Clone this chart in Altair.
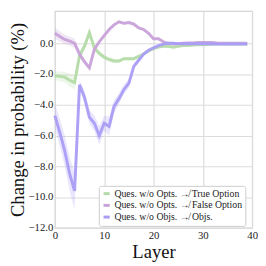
import altair as alt
import pandas as pd

layers = list(range(40))
series_names = [
    "Ques. w/o Opts. \u219b True Option",
    "Ques. w/o Opts. \u219b False Option",
    "Ques. w/o Objs. \u219b Objs.",
]
colors = ["#b4dba8", "#c8a2d9", "#a99df6"]

true_opt = [-2.1, -2.15, -2.2, -2.4, -2.55, -0.8, -0.2, 0.7, -0.3, -0.65,
            -0.9, -1.05, -1.15, -1.15, -1.0, -1.0, -1.0, -0.85, -0.7, -0.5,
            -0.35, -0.25, -0.2, -0.2, -0.25, -0.2, -0.15, -0.15, -0.12, -0.1,
            -0.1, -0.08, -0.05, -0.05, -0.05, -0.05, -0.05, -0.05, -0.05, -0.05]
true_sd = [0.3, 0.3, 0.35, 0.4, 0.45, 0.3, 0.25, 0.2, 0.15, 0.15,
           0.15, 0.15, 0.15, 0.12, 0.1, 0.1, 0.1, 0.1, 0.08, 0.08,
           0.06, 0.06, 0.05, 0.05, 0.05, 0.05, 0.04, 0.04, 0.04, 0.04,
           0.03, 0.03, 0.03, 0.03, 0.03, 0.03, 0.03, 0.03, 0.03, 0.03]

false_opt = [0.65, 0.45, 0.25, 0.15, 0.0, -0.7, -1.2, -1.6, -0.4, 0.1,
             0.5, 0.9, 1.2, 1.4, 1.3, 1.35, 1.25, 1.0, 0.9, 0.65,
             0.3, 0.3, 0.1, 0.0, -0.05, -0.03, 0.0, 0.02, 0.03, 0.05,
             0.05, 0.05, 0.05, 0.0, 0.0, 0.0, 0.0, 0.0, 0.0, 0.0]
false_sd = [0.35, 0.33, 0.3, 0.3, 0.3, 0.25, 0.2, 0.15, 0.12, 0.1,
            0.1, 0.1, 0.1, 0.1, 0.1, 0.1, 0.1, 0.08, 0.08, 0.08,
            0.06, 0.06, 0.05, 0.05, 0.04, 0.04, 0.04, 0.04, 0.04, 0.04,
            0.04, 0.04, 0.04, 0.03, 0.03, 0.03, 0.03, 0.03, 0.03, 0.03]

objs = [-4.7, -5.8, -7.0, -8.5, -9.6, -2.7, -3.5, -4.8, -5.2, -6.0,
        -5.2, -5.4, -4.1, -3.6, -3.0, -2.6, -1.5, -1.1, -0.7, -0.45,
        -0.3, -0.15, -0.05, 0.0, 0.0, -0.02, -0.03, -0.03, -0.03, -0.03,
        -0.03, -0.03, -0.05, -0.05, -0.05, -0.05, -0.05, -0.05, -0.05, -0.05]
objs_sd = [0.8, 0.9, 1.0, 1.1, 1.2, 0.3, 0.4, 0.45, 0.5, 0.6,
           0.5, 0.6, 0.4, 0.35, 0.3, 0.3, 0.2, 0.15, 0.1, 0.08,
           0.08, 0.06, 0.05, 0.05, 0.04, 0.04, 0.04, 0.04, 0.04, 0.04,
           0.03, 0.03, 0.03, 0.03, 0.03, 0.03, 0.03, 0.03, 0.03, 0.03]

y_ticks = [-12, -10, -8, -6, -4, -2, 0]
x_ticks = [0, 10, 20, 30, 40]

rows = []
for name, vals, sds in zip(series_names, [true_opt, false_opt, objs], [true_sd, false_sd, objs_sd]):
    for l, v, s in zip(layers, vals, sds):
        rows.append({"layer": l, "value": v, "lo": v - s, "hi": v + s, "series": name})
df = pd.DataFrame(rows)

serif = "Liberation Serif"

color = alt.Color(
    "series:N",
    scale=alt.Scale(domain=series_names, range=colors),
    sort=series_names,
    legend=alt.Legend(
        title=None,
        orient="none",
        legendX=45,
        legendY=179,
        symbolType="stroke",
        symbolStrokeWidth=3,
        symbolSize=40,
        symbolOpacity=1,
        labelFont="Liberation Serif, DejaVu Serif",
        labelFontSize=10,
        labelColor="#222",
        labelLimit=300,
        fillColor="white",
        strokeColor="#ccc",
        padding=3,
        rowPadding=0,
        symbolOffset=0,
        labelOffset=3,
        cornerRadius=2,
    ),
)

xaxis = alt.Axis(values=x_ticks, title="Layer", format="d", titleFont=serif,
                 labelFont=serif, labelFlush=False)
yaxis = alt.Axis(values=y_ticks, format=".1f", title="Change in probability (%)",
                 labelOverlap=False, titleFont=serif, labelFont=serif)
xenc = alt.X("layer:Q", scale=alt.Scale(domain=[0, 40], nice=False), axis=xaxis)
yscale = alt.Scale(domain=[-12, 2.1], nice=False, zero=False)

band = alt.Chart(df).mark_area(opacity=0.25).encode(
    x=xenc,
    y=alt.Y("lo:Q", scale=yscale, axis=yaxis),
    y2="hi:Q",
    color=color,
    detail="series:N",
)

line = alt.Chart(df).mark_line(strokeWidth=3, opacity=0.95).encode(
    x=xenc,
    y=alt.Y("value:Q", scale=yscale, axis=yaxis),
    color=color,
)

chart = alt.layer(band, line).properties(
    width=202,
    height=222,
    autosize=alt.AutoSizeParams(type="none"),
    padding={"left": 48, "top": 0, "right": 6, "bottom": 36},
).configure_view(
    stroke="#d6d6d6", strokeWidth=1.2
).configure_axis(
    grid=True,
    gridColor="#dcdcdc",
    gridWidth=1.2,
    domain=False,
    ticks=False,
    labelOverlap=False,
    labelFontSize=11,
    labelColor="#222",
    titleFontSize=19,
    titleFontWeight="normal",
    titleColor="#111",
    labelPadding=2,
).configure_axisY(
    titlePadding=1,
).configure_axisX(
    titlePadding=2,
)

chart.save("out.html", embed_options={"renderer": "svg", "actions": False})
